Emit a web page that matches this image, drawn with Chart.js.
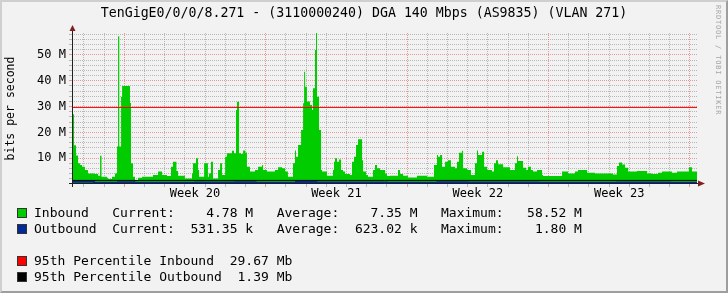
<!DOCTYPE html>
<html lang="en">
<head>
<meta charset="UTF-8">
<title>TenGigE0/0/0/8.271 traffic</title>
<script src="https://cdn.jsdelivr.net/npm/chart.js"></script>
<style>
    body { margin: 0; background: #f2f2f2; }
    #graph { position: relative; width: 728px; height: 293px; background: #f2f2f2; overflow: hidden;
             font-family: "DejaVu Sans Mono", monospace; color: #000; }
    #graph canvas { position: absolute; left: 0; top: 0; }
    #frame { position: absolute; left: 0; top: 0; width: 728px; height: 293px; box-sizing: border-box;
             border: 2px solid; border-color: #cfcfcf #9e9e9e #9e9e9e #cfcfcf; pointer-events: none; }
    #title { position: absolute; left: 0; top: 5px; width: 728px; text-align: center; font-size: 13.25px;
             line-height: 16px; white-space: pre; }
    #credit { position: absolute; left: 714px; top: 5px; writing-mode: vertical-rl; font-size: 7px;
              letter-spacing: 0.8px; color: #a6a6a6; white-space: pre; }
    .row { position: absolute; left: 34px; font-size: 13px; line-height: 16px; white-space: pre; }
    .box { position: absolute; left: 17px; width: 10px; height: 10px; box-sizing: border-box; border: 1px solid #333; }
</style>
</head>
<body>
<div id="graph">
    <canvas id="chart" width="728" height="293"></canvas>
    <div id="title">TenGigE0/0/0/8.271 - (3110000240) DGA 140 Mbps (AS9835) (VLAN 271)</div>
    <div id="credit">RRDTOOL / TOBI OETIKER</div>

    <div class="box" style="top:208px;background:#00cc00"></div>
    <div class="row" style="top:205px">Inbound   Current:    4.78 M   Average:    7.35 M   Maximum:   58.52 M</div>
    <div class="box" style="top:224px;background:#002a97"></div>
    <div class="row" style="top:221px">Outbound  Current:  531.35 k   Average:  623.02 k   Maximum:    1.80 M</div>
    <div class="box" style="top:256px;background:#ff0000"></div>
    <div class="row" style="top:253px">95th Percentile Inbound  29.67 Mb</div>
    <div class="box" style="top:272px;background:#000000"></div>
    <div class="row" style="top:269px">95th Percentile Outbound  1.39 Mb</div>
    <div id="frame"></div>
</div>

<script>
    // time axis in days, 0 = start of Week 20
    const xMin = -2.59
    const xMax = 28.35
    const yMax = 58.52
    const weekLabels = ["Week 20", "Week 21", "Week 22", "Week 23"]
    const weekCenters = [3.5, 10.5, 17.5, 24.5]

    // inbound traffic (Mbps)
    const inDays = [-2.59, -2.54, -2.49, -2.39, -2.29, -2.19, -2.09, -1.95, -1.80, -1.45, -1.30, -1.20, -1.13, -0.86, -0.81, -0.61, -0.46, -0.36, -0.31, -0.25,
        -0.16, -0.11, 0.28, 0.33, 0.43, 0.53, 0.68, 0.88, 1.42, 1.67, 1.87, 2.11, 2.31, 2.41, 2.58, 2.66, 3.00, 3.35, 3.40, 3.55,
        3.65, 3.70, 3.95, 4.14, 4.19, 4.29, 4.39, 4.64, 4.74, 4.84, 4.99, 5.08, 5.33, 5.43, 5.53, 5.58, 5.68, 5.78, 5.88, 5.98,
        6.07, 6.22, 6.47, 6.62, 6.82, 6.87, 7.06, 7.46, 7.61, 7.81, 7.96, 8.10, 8.35, 8.45, 8.50, 8.60, 8.75, 8.85, 8.90, 8.95,
        9.04, 9.19, 9.29, 9.34, 9.44, 9.49, 9.54, 9.64, 9.74, 9.79, 10.03, 10.33, 10.38, 10.43, 10.53, 10.63, 10.73, 10.83, 10.93, 11.17,
        11.27, 11.37, 11.47, 11.57, 11.77, 11.82, 11.97, 12.06, 12.31, 12.41, 12.51, 12.66, 12.91, 13.00, 13.15, 13.55, 13.65, 13.80, 14.04, 14.49,
        14.99, 15.33, 15.48, 15.53, 15.63, 15.73, 15.88, 16.02, 16.17, 16.37, 16.47, 16.57, 16.72, 16.77, 16.97, 17.16, 17.36, 17.46, 17.51, 17.71,
        17.81, 17.96, 18.20, 18.30, 18.40, 18.50, 18.75, 19.09, 19.34, 19.44, 19.49, 19.74, 19.89, 19.98, 20.13, 20.23, 20.43, 20.68, 20.73, 21.67,
        21.97, 22.31, 22.46, 22.91, 23.30, 24.19, 24.39, 24.49, 24.64, 24.79, 24.94, 25.38, 25.88, 26.12, 26.42, 26.62, 27.11, 27.36, 27.95, 28.10,
        28.35]
    const inMbps = [44, 27, 15, 11, 8, 7.4, 6.7, 5.4, 4.1, 3.9, 3.2, 10.9, 2.8, 2.4, 1.9, 2.8, 4.1, 14.5, 57.3, 14.5,
        33.8, 38, 31.4, 8, 2.8, 1.5, 2.4, 2.8, 3.5, 4.8, 3.5, 3.1, 6.7, 8.6, 5, 3.2, 2.1, 4.1, 8, 10,
        5.4, 2.8, 8, 2.8, 4.1, 8.6, 2.1, 5.4, 8, 3.5, 10.6, 11.9, 12.9, 11.9, 28.7, 31.9, 11.9, 11.6, 13, 12.2,
        6.7, 4.8, 5.4, 6.7, 7.4, 5.4, 4.8, 5.4, 6.5, 6.1, 4.8, 2.8, 8, 13, 10.6, 15.1, 20.9, 31.3, 43.5, 37.7,
        32, 30.6, 28.7, 37.1, 51.9, 58.5, 33.8, 20.9, 5.4, 4.8, 3.2, 5.4, 8.6, 10, 8.6, 9.5, 5.4, 4.8, 3.9, 3.5,
        8.6, 10.6, 15.1, 17.3, 9.2, 4.8, 3.5, 2.8, 5.4, 7.4, 6.1, 5.4, 4.1, 3.1, 3.2, 5.4, 3.9, 3.2, 2.5, 3.2,
        2.8, 7.4, 11.2, 10.6, 11.2, 6.7, 8.6, 9.2, 6.7, 6.1, 8.6, 12.1, 12.9, 6.1, 5.4, 3.5, 8, 13, 11.2, 12.5,
        6.7, 5.4, 4.8, 8, 9.2, 7.7, 6.5, 5.4, 8, 10.8, 8.9, 6.3, 5.4, 6.7, 5.4, 4.8, 5.4, 3.5, 3.1, 4.8,
        4.1, 4.8, 5.4, 4.4, 4.1, 3.7, 7, 8.3, 7.6, 6.3, 4.8, 5.0, 4.1, 3.9, 4.4, 4.8, 4.4, 4.8, 6.5, 4.8,
        4.78]

    // outbound traffic (Mbps)
    const outDays = [-2.59, -1.5, -0.3, 0.5, 2, 3.5, 5.5, 6.5, 8.5, 9.5, 11.5, 13, 15.5, 17, 18.5, 20.5, 22, 24.4, 25.5, 27, 28.35]
    const outMbps = [0.9, 0.5, 0.7, 0.45, 0.5, 0.6, 0.7, 0.5, 0.8, 0.6, 0.55, 0.45, 0.65, 0.55, 0.6, 0.45, 0.5, 0.6, 0.55, 0.5, 0.53]

    const pct95In = 29.67
    const pct95Out = 1.39

    const GRID = "rgba(143,143,143,0.6)"
    const MGRID = "rgba(222,79,79,0.55)"
    const AXIS = "#1f1f1f"
    const ARROW = "rgb(128,31,31)"
    const tickFont = { family: "DejaVu Sans Mono", size: 12 }

    const pairs = (xs, ys) => xs.map((x, i) => ({ x: x, y: ys[i] }))

    // axis lines with rrdtool style arrows
    const axisArrows = {
        id: "axisArrows",
        afterDatasetsDraw(chart) {
            const { ctx, chartArea: a } = chart
            const x0 = a.left + 0.5
            const y0 = a.bottom - 0.5
            ctx.save()
            ctx.strokeStyle = AXIS
            ctx.lineWidth = 1
            ctx.beginPath()
            ctx.moveTo(a.left - 3, y0)
            ctx.lineTo(a.right + 3, y0)
            ctx.moveTo(x0, a.bottom + 3)
            ctx.lineTo(x0, a.top - 2)
            ctx.stroke()
            ctx.fillStyle = ARROW
            ctx.beginPath()
            ctx.moveTo(x0 - 3, a.top - 2)
            ctx.lineTo(x0 + 3, a.top - 2)
            ctx.lineTo(x0, a.top - 8)
            ctx.closePath()
            ctx.fill()
            ctx.beginPath()
            ctx.moveTo(a.right + 1, y0 - 3)
            ctx.lineTo(a.right + 1, y0 + 3)
            ctx.lineTo(a.right + 8, y0)
            ctx.closePath()
            ctx.fill()
            ctx.restore()
        }
    }

    new Chart(document.getElementById("chart"), {
        type: "line",
        data: {
            datasets: [
                { label: "95th Percentile Inbound", data: pairs([xMin, xMax], [pct95In, pct95In]), borderColor: "#ff0000", borderWidth: 1, pointRadius: 0, order: 0 },
                { label: "95th Percentile Outbound", data: pairs([xMin, xMax], [pct95Out, pct95Out]), borderColor: "#000000", borderWidth: 1, pointRadius: 0, order: 1 },
                { label: "Outbound", data: pairs(outDays, outMbps), borderColor: "#002a97", borderWidth: 2, pointRadius: 0, stepped: true, order: 2 },
                { label: "Inbound", data: pairs(inDays, inMbps), backgroundColor: "#00cc00", borderColor: "transparent", borderWidth: 0,
                  pointRadius: 0, fill: "origin", stepped: true, order: 3 }
            ]
        },
        options: {
            responsive: false,
            animation: false,
            layout: { padding: { top: 33, right: 31, left: 0, bottom: 0 } },
            plugins: { legend: { display: false }, tooltip: { enabled: false } },
            scales: {
                x: {
                    type: "linear", min: xMin, max: xMax,
                    afterFit: s => { s.height = 109 },
                    afterBuildTicks: s => {
                        const t = []
                        for (let d = Math.ceil(xMin); d <= xMax; d++) t.push(d)
                        weekCenters.forEach(c => t.push(c))
                        t.sort((a, b) => a - b)
                        s.ticks = t.map(v => ({ value: v }))
                    },
                    border: { display: false, dash: [1, 1] },
                    grid: {
                        tickLength: 3,
                        color: c => !Number.isInteger(c.tick.value) ? "transparent" : (c.tick.value % 7 === 0 ? MGRID : GRID)
                    },
                    ticks: {
                        autoSkip: false, maxRotation: 0, padding: 0, color: "#000", font: tickFont,
                        callback: v => { const i = weekCenters.indexOf(v); return i < 0 ? "" : weekLabels[i] }
                    }
                },
                y: {
                    type: "linear", min: 0, max: yMax,
                    afterFit: s => { s.width = 72 },
                    afterBuildTicks: s => {
                        const t = []
                        for (let v = 2; v <= yMax; v += 2) t.push({ value: v })
                        s.ticks = t
                    },
                    border: { display: false, dash: [1, 1] },
                    grid: {
                        tickLength: 3,
                        color: c => c.tick.value % 10 === 0 ? MGRID : GRID
                    },
                    ticks: {
                        autoSkip: false, padding: 3, color: "#000", font: tickFont,
                        callback: v => v % 10 === 0 ? v + " M" : ""
                    },
                    title: {
                        display: true, text: "bits per second", color: "#000",
                        font: { family: "DejaVu Sans Mono", size: 11.5 }, padding: { top: 4, bottom: 0 }
                    }
                }
            }
        },
        plugins: [axisArrows]
    })
</script>
</body>
</html>
